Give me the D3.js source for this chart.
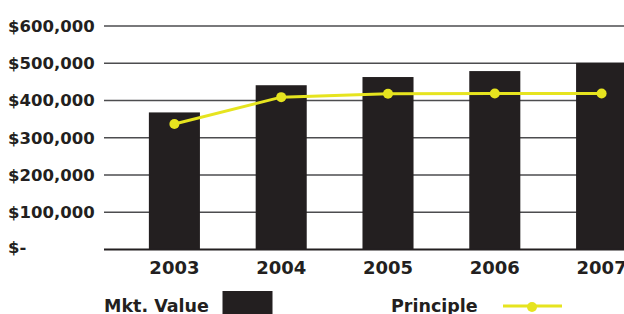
<!DOCTYPE html>
<html>
<head>
<meta charset="utf-8">
<script src="https://cdn.jsdelivr.net/npm/d3@7"></script>
<style>
  body { margin: 0; background: #fff; }
  svg { display: block; font-family: "DejaVu Sans", sans-serif; font-weight: bold; }
</style>
</head>
<body>
<div id="chart"></div>
<script>
const years = ["2003", "2004", "2005", "2006", "2007"];
const mktValue = [368000, 441000, 463000, 479000, 501000];
const principle = [337000, 409000, 418000, 419000, 419000];
const yTicks = [0, 100000, 200000, 300000, 400000, 500000, 600000];

const width = 624;
const height = 314;
const ink = "#231f20";
const yellow = "#e6e41f";

const svg = d3.select("#chart")
  .append("svg")
  .attr("width", width)
  .attr("height", height);

// scales
const x = d3.scaleBand()
  .domain(years)
  .range([121, 655])
  .paddingInner(0.522)
  .paddingOuter(0.261);

const y = d3.scaleLinear()
  .domain([0, 600000])
  .range([249.5, 26]);

const fmt = (v) => (v === 0 ? "$-" : "$" + d3.format(",")(v));

// gridlines
svg.append("g")
  .attr("class", "grid")
  .selectAll("line")
  .data(yTicks.filter((d) => d > 0))
  .join("line")
  .attr("x1", 104)
  .attr("x2", width)
  .attr("y1", (d) => y(d))
  .attr("y2", (d) => y(d))
  .attr("stroke", "#4d4d4f")
  .attr("stroke-width", 1.5);

// y labels
svg.append("g")
  .attr("class", "y-labels")
  .selectAll("text")
  .data(yTicks)
  .join("text")
  .attr("x", 8)
  .attr("y", (d) => y(d) - (d === 0 ? 2 : 0))
  .attr("dy", "0.36em")
  .attr("fill", ink)
  .style("font-size", "16.5px")
  .text(fmt);

// bars
svg.append("g")
  .attr("class", "bars")
  .selectAll("rect")
  .data(years)
  .join("rect")
  .attr("x", (d) => x(d))
  .attr("width", x.bandwidth())
  .attr("y", (d, i) => y(mktValue[i]))
  .attr("height", (d, i) => y(0) - y(mktValue[i]))
  .attr("fill", ink);

// baseline axis
const xAxis = d3.axisBottom(x).tickSize(0).tickPadding(12);
const gx = svg.append("g")
  .attr("class", "x axis")
  .attr("transform", "translate(0," + y(0) + ")")
  .call(xAxis);
gx.select(".domain").remove();
gx.append("line")
  .attr("x1", 104)
  .attr("x2", width)
  .attr("stroke", ink)
  .attr("stroke-width", 2);
gx.selectAll(".tick text")
  .attr("fill", ink)
  .style("font-size", "18px")
  .style("font-family", "DejaVu Sans, sans-serif")
  .style("font-weight", "bold");

// principle line
const line = d3.line()
  .x((d, i) => x(years[i]) + x.bandwidth() / 2)
  .y((d) => y(d));

svg.append("path")
  .datum(principle)
  .attr("d", line)
  .attr("fill", "none")
  .attr("stroke", yellow)
  .attr("stroke-width", 3);

svg.append("g")
  .attr("class", "dots")
  .selectAll("circle")
  .data(principle)
  .join("circle")
  .attr("cx", (d, i) => x(years[i]) + x.bandwidth() / 2)
  .attr("cy", (d) => y(d))
  .attr("r", 5)
  .attr("fill", yellow);

// legend
const legend = svg.append("g").attr("class", "legend");
legend.append("text")
  .attr("x", 104)
  .attr("y", 312)
  .attr("fill", ink)
  .style("font-size", "17.5px")
  .text("Mkt. Value");
legend.append("rect")
  .attr("x", 222.5)
  .attr("y", 291)
  .attr("width", 50)
  .attr("height", 30)
  .attr("fill", ink);
legend.append("text")
  .attr("x", 391)
  .attr("y", 312)
  .attr("fill", ink)
  .style("font-size", "17.5px")
  .text("Principle");
legend.append("line")
  .attr("x1", 503)
  .attr("x2", 562)
  .attr("y1", 306)
  .attr("y2", 306)
  .attr("stroke", yellow)
  .attr("stroke-width", 3);
legend.append("circle")
  .attr("cx", 532)
  .attr("cy", 307)
  .attr("r", 5)
  .attr("fill", yellow);
</script>
</body>
</html>
